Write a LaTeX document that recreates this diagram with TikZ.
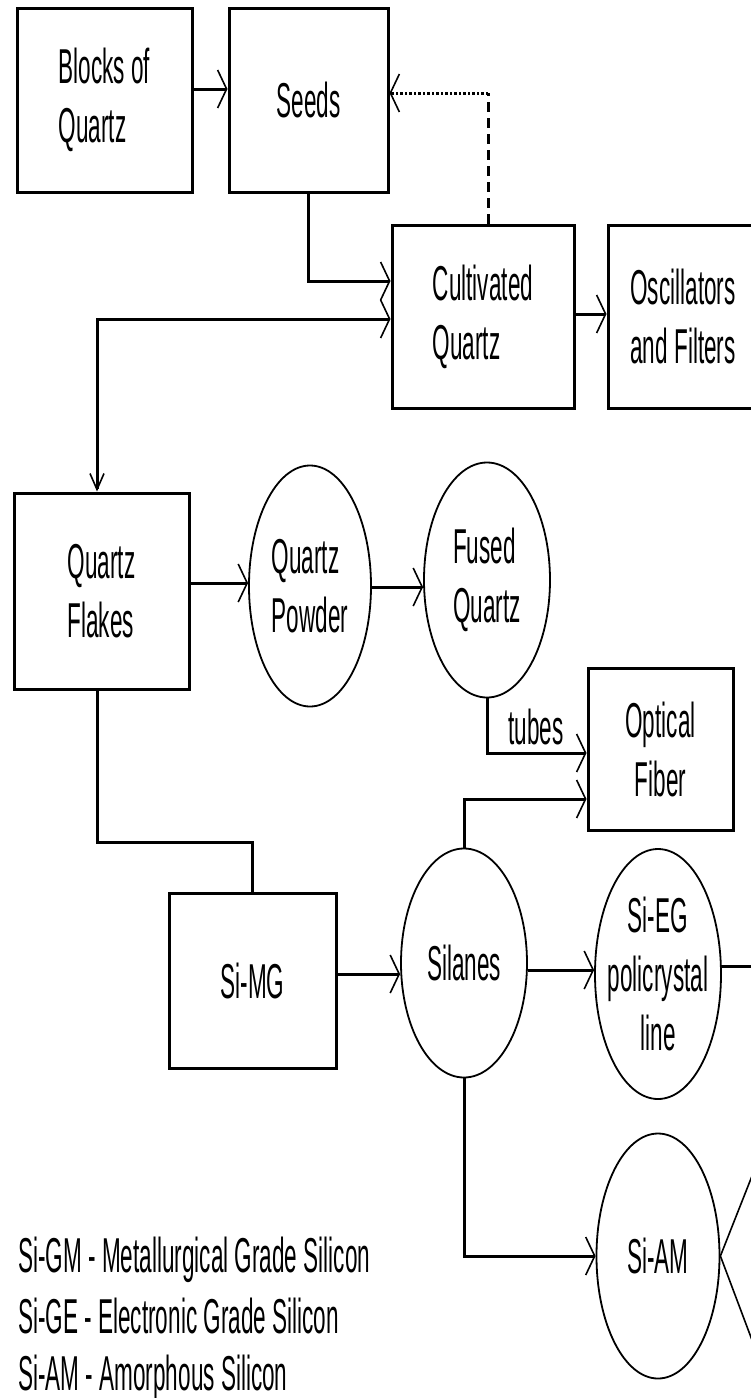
\documentclass[tikz,border=0pt]{standalone}
\usepackage{fontspec}
\newfontfamily\bmfont[FakeStretch=0.46]{Liberation Sans}
\newcommand\lblfont{\bmfont\fontsize{49}{59}\selectfont}
\usetikzlibrary{arrows.meta,shapes.geometric,calc}
\begin{document}
\begin{tikzpicture}[x=1pt,y=-1pt,
  box/.style={draw,line width=3pt,inner sep=0pt,align=left,font=\lblfont},
  oval/.style={draw,ellipse,line width=1.8pt,inner sep=0pt},
  lbl/.style={inner sep=0pt,font=\lblfont,align=left},
  conn/.style={line width=3pt},
  harr/.style={-{Straight Barb[length=9pt,width=38pt,line width=1.6pt]}}
]
\useasboundingbox (0,0) rectangle (751,1398);
\fill[white] (0,0) rectangle (751,1398);
\clip (0,0) rectangle (751,1398);

% nodes
\node[box,minimum width=175pt,minimum height=184pt] (blocks) at (104.5,100) {Blocks of\\Quartz};
\node[box,minimum width=159pt,minimum height=184pt] (seeds) at (308.5,100) {Seeds};
\node[box,minimum width=182pt,minimum height=183pt] (cult) at (483,316.5) {Cultivated\\Quartz};
\node[box,minimum width=150pt,minimum height=183pt] (osc) at (683,316.5) {Oscillators\\and Filters};
\node[box,minimum width=175pt,minimum height=196pt] (flakes) at (101.5,591) {Quartz\\Flakes};
\node[oval,minimum width=122pt,minimum height=241pt] (powder) at (310,586) {};
\node[lbl] (powdertxt) at (powder.center) {Quartz\\Powder};
\node[oval,minimum width=126pt,minimum height=235pt] (fused) at (487,580) {};
\node[lbl] (fusedtxt) at (fused.center) {Fused\\Quartz};
\node[box,minimum width=145pt,minimum height=162pt,align=center] (optical) at (660.5,749) {Optical\\Fiber};
\node[box,minimum width=167pt,minimum height=175pt] (simg) at (252.5,980.5) {Si-MG};
\node[oval,minimum width=126pt,minimum height=229pt] (silanes) at (464,963) {};
\node[lbl] (silanestxt) at (silanes.center) {Silanes};
\node[oval,minimum width=126pt,minimum height=250pt] (sieg) at (658,974) {};
\node[lbl,align=center] (siegtxt) at (sieg.center) {Si-EG\\policrystal\\line};
\node[oval,minimum width=123pt,minimum height=245pt] (siam) at (658,1256) {};
\node[lbl] (siamtxt) at (siam.center) {Si-AM};

% connectors
\draw[conn,harr] (blocks.east |- 0,89) -- (seeds.west |- 0,89);
\draw[conn,harr] (seeds.south) |- (cult.west |- 0,281);
\coordinate (dc) at (488,93);
\draw[conn,dash pattern=on 10pt off 6pt] (dc |- cult.north) -- (dc);
\draw[conn,dash pattern=on 2.5pt off 2pt,harr] (dc) -- (dc -| seeds.east);
\draw[conn,harr] (cult.east |- 0,314) -- (osc.west |- 0,314);
\draw[conn,{Straight Barb[length=16pt,width=14pt,line width=1.6pt]}-{Straight Barb[length=9pt,width=38pt,line width=1.6pt]}]
  (flakes.north -| 97,0) |- (cult.west |- 0,319);
\draw[conn,harr] (flakes.east |- 0,583) -- (powder.west |- 0,583);
\draw[conn,harr] (powder.east |- 0,587) -- (fused.west |- 0,587);
\draw[conn,harr] (fused.south) |- (optical.west |- 0,753);
\node[lbl] (tubes) at (536,727) {tubes};
\draw[conn,harr] (silanes.north) |- (optical.west |- 0,799);
\draw[conn] (flakes.south -| 97,0) |- (simg.north |- 0,842) -- (simg.north);
\draw[conn,harr] (simg.east |- 0,974) -- (silanes.west |- 0,974);
\draw[conn,harr] (silanes.east |- 0,970) -- (sieg.west |- 0,970);
\coordinate (offr) at (760,966);
\draw[conn] (sieg.east |- 0,966) -- (offr);
\draw[conn,harr] (silanes.south) |- (siam.west);
\coordinate (xa) at (752,1176);
\coordinate (xb) at (752,1340);
\draw[line width=1.6pt] (xa) -- (siam.east) -- (xb);

% legend
\node[lbl,anchor=base west] (leg1) at (18,1272) {Si-GM - Metallurgical Grade Silicon};
\node[lbl,anchor=base west] (leg2) at (18,1333) {Si-GE - Electronic Grade Silicon};
\node[lbl,anchor=base west] (leg3) at (18,1390) {Si-AM - Amorphous Silicon};
\end{tikzpicture}
\end{document}
